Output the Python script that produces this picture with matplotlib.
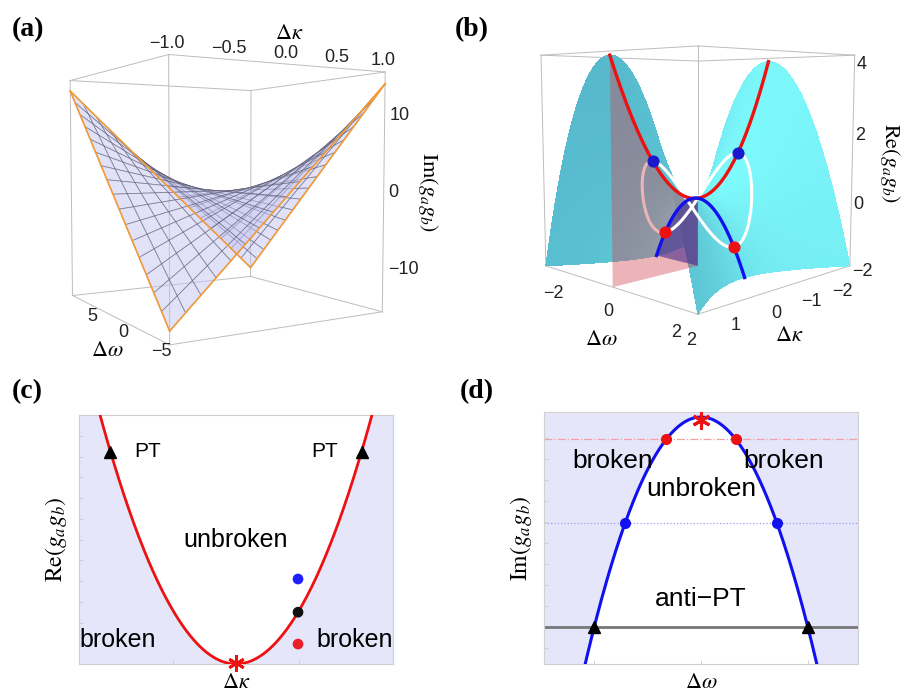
import numpy as np
import matplotlib
matplotlib.use('Agg')
import matplotlib.pyplot as plt
from mpl_toolkits.mplot3d.art3d import Poly3DCollection
from mpl_toolkits.mplot3d import proj3d

# ---------------- data ----------------
# panel (a): Im(g_a g_b) = A_COEF * dkappa * domega
A_KAPPA_LIM = [-1.0, 1.0]
A_OMEGA_LIM = [-7.0, 7.0]
A_Z_LIM = [-15.5, 15.5]
A_COEF = -2.0
A_KAPPA_TICKS = [-1.0, -0.5, 0.0, 0.5, 1.0]
A_KAPPA_LABELS = ['−1.0', '−0.5', '0.0', '0.5', '1.0']
A_OMEGA_TICKS = [5, 0, -5]
A_OMEGA_LABELS = ['5', '0', '−5']
A_Z_TICKS = [10, 0, -10]
A_Z_LABELS = ['10', '0', '−10']

# panel (b): Re(g_a g_b) = dkappa^2 - domega^2, clipped at z = -2
B_KAPPA_LIM = [-2.0, 2.0]
B_OMEGA_LIM = [-2.45, 2.45]
B_Z_LIM = [-2.0, 4.1]
B_LOOP_R = 1.1
B_KAPPA_TICKS = [2, 1, 0, -1, -2]
B_KAPPA_LABELS = ['2', '1', '0', '−1', '−2']
B_OMEGA_TICKS = [-2, 0, 2]
B_OMEGA_LABELS = ['−2', '0', '2']
B_Z_TICKS = [4, 2, 0, -2]
B_Z_LABELS = ['4', '2', '0', '−2']

# panel (c): Re(g_a g_b) = dkappa^2
C_XLIM = [-1.0, 1.0]
C_YLIM = [0.0, 0.75]
C_PT_X = [-0.80, 0.80]
C_DOT_X = [0.395, 0.395, 0.395]
C_DOT_Y = [0.256, 0.156, 0.060]
C_DOT_COLORS = ['#1f1fff', '#111111', '#e8202a']

# panel (d): Im(g_a g_b) = 1 - domega^2
D_XLIM = [-1.47, 1.47]
D_YLIM = [-0.176, 1.024]
D_LINE_Y = [0.895, 0.495, 0.0]   # red dash-dot, blue dotted, gray solid

LAVENDER = '#e6e6fa'
W_PX, H_PX = 907, 699

plt.rcParams['font.family'] = ['Liberation Sans', 'DejaVu Sans']
plt.rcParams['mathtext.fontset'] = 'stix'

fig = plt.figure(figsize=(9.07, 6.99), dpi=100)

labels3d = []   # (axes, x, y, z, text, dx_px, dy_px, kwargs)


def label3d(ax, x, y, z, s, dx=0, dy=0, **kw):
    labels3d.append((ax, x, y, z, s, dx, dy, kw))


def box_edges(ax, xl, yl, zl, color='#bdbdbd', lw=0.7):
    for y in yl:
        for z in zl:
            ax.plot(xl, [y, y], [z, z], color=color, lw=lw, zorder=0)
    for x in xl:
        for z in zl:
            ax.plot([x, x], yl, [z, z], color=color, lw=lw, zorder=0)
    for x in xl:
        for y in yl:
            ax.plot([x, x], [y, y], zl, color=color, lw=lw, zorder=0)


def setup3d(ax, xl, yl, zl):
    ax.set_xlim(xl)
    ax.set_ylim(yl)
    ax.set_zlim(zl)
    ax.set_axis_off()
    ax.patch.set_alpha(0)


tick_kw = dict(fontsize=13, color='#222222', ha='center', va='center')
left_kw = dict(fontsize=13, color='#222222', ha='left', va='center')

# ---------------- panel (a) ----------------
axa = fig.add_axes([-0.014, 0.46, 0.50, 0.52], projection='3d', computed_zorder=False)
axa.set_proj_type('persp', focal_length=0.36)
axa.view_init(elev=3, azim=-121)
axa.set_box_aspect((1, 1, 1), zoom=1.05)
setup3d(axa, A_KAPPA_LIM, A_OMEGA_LIM, A_Z_LIM)
box_edges(axa, A_KAPPA_LIM, A_OMEGA_LIM, A_Z_LIM)

ka = np.linspace(A_KAPPA_LIM[0], A_KAPPA_LIM[1], 17)
wa = np.linspace(A_OMEGA_LIM[0], A_OMEGA_LIM[1], 17)
KA, WA = np.meshgrid(ka, wa)
ZA = A_COEF * KA * WA
axa.plot_surface(KA, WA, ZA, color='#c4c6f3', alpha=0.5, edgecolor=(0.3, 0.3, 0.38, 0.5),
                 linewidth=0.55, rstride=1, cstride=1, shade=False, zorder=2)
for k0 in A_KAPPA_LIM:
    axa.plot([k0] * len(wa), wa, A_COEF * k0 * wa, color='#f29a38', lw=1.2, zorder=3)
for w0 in A_OMEGA_LIM:
    axa.plot(ka, [w0] * len(ka), A_COEF * ka * w0, color='#f29a38', lw=1.2, zorder=3)

for t, s in zip(A_KAPPA_TICKS, A_KAPPA_LABELS):
    label3d(axa, t, A_OMEGA_LIM[0], A_Z_LIM[1], s, dx=-2, dy=11, **tick_kw)
label3d(axa, 0.0, A_OMEGA_LIM[0], A_Z_LIM[1], r'$\Delta\kappa$', dx=2, dy=31,
        fontsize=16, ha='center', va='center')
for t, s in zip(A_Z_TICKS, A_Z_LABELS):
    label3d(axa, A_KAPPA_LIM[1], A_OMEGA_LIM[0], t, s, dx=5, dy=0, **left_kw)
label3d(axa, A_KAPPA_LIM[1], A_OMEGA_LIM[0], 0, r'$\mathrm{Im}(g_a g_b)$', dx=44, dy=1,
        fontsize=16, rotation=270, ha='center', va='center')
for t, s in zip(A_OMEGA_TICKS, A_OMEGA_LABELS):
    label3d(axa, A_KAPPA_LIM[0], t, A_Z_LIM[0], s, dx=9, dy=-16, **tick_kw)
label3d(axa, A_KAPPA_LIM[0], 2.0, A_Z_LIM[0], r'$\Delta\omega$', dx=6, dy=-41,
        fontsize=16, ha='center', va='center')

# ---------------- panel (b) ----------------
axb = fig.add_axes([0.514, 0.501, 0.50, 0.52], projection='3d', computed_zorder=False)
axb.set_proj_type('persp', focal_length=0.36)
axb.view_init(elev=6, azim=45)
axb.set_box_aspect((1, 1, 0.97), zoom=1.0)
setup3d(axb, B_KAPPA_LIM, B_OMEGA_LIM, B_Z_LIM)
box_edges(axb, B_KAPPA_LIM, B_OMEGA_LIM, B_Z_LIM)

kb = np.linspace(B_KAPPA_LIM[0], B_KAPPA_LIM[1], 81)
sb = np.linspace(-1, 1, 81)
KB, SB = np.meshgrid(kb, sb)
WB = SB * np.sqrt(KB ** 2 - B_Z_LIM[0])
ZB = KB ** 2 - WB ** 2
# simple directional lighting on the surface normals
nx, ny, nz = -2 * KB, 2 * WB, np.ones_like(KB)
nn = np.sqrt(nx ** 2 + ny ** 2 + nz ** 2)
light = np.array([0.8, 0.15, 0.55])
light = light / np.linalg.norm(light)
tt = 0.5 + 0.5 * (nx * light[0] + ny * light[1] + nz * light[2]) / nn
dark = np.array([78, 172, 194]) / 255.0
bright = np.array([125, 250, 252]) / 255.0
fc = dark[None, None, :] + tt[..., None] * (bright - dark)[None, None, :]
fc = np.concatenate([fc, np.ones(KB.shape + (1,))], axis=-1)
axb.plot_surface(KB, WB, ZB, facecolors=fc, linewidth=0, antialiased=False,
                 shade=False, rstride=1, cstride=1, zorder=1)

# loop
t = np.linspace(0, 2 * np.pi, 300)
lk = B_LOOP_R * np.cos(t)
lw_ = B_LOOP_R * np.sin(t)
lz = lk ** 2 - lw_ ** 2
back = (lk > 0) & (lw_ < 0)
axb.plot(np.where(back, lk, np.nan), np.where(back, lw_, np.nan), np.where(back, lz, np.nan),
         color='white', lw=2.2, zorder=2)

# red plane (domega = 0, dkappa in [0, 2]) and blue plane (dkappa = 0, domega in [-sqrt2, 0])
kp = np.linspace(B_KAPPA_LIM[1], 0, 40)
red_verts = [(0, 0, B_Z_LIM[0]), (B_KAPPA_LIM[1], 0, B_Z_LIM[0])] + \
            [(k, 0, k ** 2) for k in kp] + [(0, 0, B_Z_LIM[0])]
axb.add_collection3d(Poly3DCollection([red_verts], facecolor=(0.82, 0.26, 0.31, 0.4),
                                      edgecolor='none', zorder=3))
w0 = -np.sqrt(-B_Z_LIM[0])
wp = np.linspace(w0, 0, 40)
blue_verts = [(0, w, -w ** 2) for w in wp] + [(0, 0, B_Z_LIM[0])]
axb.add_collection3d(Poly3DCollection([blue_verts], facecolor=(0.22, 0.12, 0.55, 0.55),
                                      edgecolor='none', zorder=3))

axb.plot(np.where(~back, lk, np.nan), np.where(~back, lw_, np.nan), np.where(~back, lz, np.nan),
         color='white', lw=2.2, zorder=4)
kr = np.linspace(B_KAPPA_LIM[0], B_KAPPA_LIM[1], 200)
axb.plot(kr, np.zeros_like(kr), kr ** 2, color='#ee1111', lw=2.4, zorder=5)
wr = np.linspace(-np.sqrt(-B_Z_LIM[0]), np.sqrt(-B_Z_LIM[0]), 200)
axb.plot(np.zeros_like(wr), wr, -wr ** 2, color='#1111ee', lw=2.4, zorder=5)
axb.scatter([B_LOOP_R, -B_LOOP_R], [0, 0], [B_LOOP_R ** 2] * 2, s=60, color='#1a1acc',
            depthshade=False, zorder=6)
axb.scatter([0, 0], [B_LOOP_R, -B_LOOP_R], [-B_LOOP_R ** 2] * 2, s=60, color='#ee1111',
            depthshade=False, zorder=6)

for t_, s in zip(B_Z_TICKS, B_Z_LABELS):
    label3d(axb, B_KAPPA_LIM[0], B_OMEGA_LIM[1], t_, s, dx=2, dy=-6, **left_kw)
label3d(axb, B_KAPPA_LIM[0], B_OMEGA_LIM[1], 1.0, r'$\mathrm{Re}(g_a g_b)$', dx=38, dy=1,
        fontsize=16, rotation=270, ha='center', va='center')
for t_, s in zip(B_KAPPA_TICKS, B_KAPPA_LABELS):
    label3d(axb, t_, B_OMEGA_LIM[1], B_Z_LIM[0], s, dx=-7, dy=-26, **tick_kw)
label3d(axb, 0.0, B_OMEGA_LIM[1], B_Z_LIM[0], r'$\Delta\kappa$', dx=6, dy=-48,
        fontsize=16, ha='center', va='center')
for t_, s in zip(B_OMEGA_TICKS, B_OMEGA_LABELS):
    label3d(axb, B_KAPPA_LIM[1], t_, B_Z_LIM[0], s, dx=-4, dy=-24, **tick_kw)
label3d(axb, B_KAPPA_LIM[1], 0.0, B_Z_LIM[0], r'$\Delta\omega$', dx=-11, dy=-52,
        fontsize=16, ha='center', va='center')

# ---------------- panel (c) ----------------
axc = fig.add_axes([79 / W_PX, 35 / H_PX, 314 / W_PX, 249 / H_PX])
xc = np.linspace(C_XLIM[0], C_XLIM[1], 500)
yc = xc ** 2
axc.set_facecolor(LAVENDER)
axc.fill_between(xc, yc, C_YLIM[1] + 1, color='white', lw=0, zorder=1)
axc.plot(xc, yc, color='#ee1111', lw=2.0, zorder=3, clip_on=True)
axc.plot(C_PT_X, [x ** 2 for x in C_PT_X], marker='^', ls='none', color='black', ms=9, zorder=4)
axc.scatter(C_DOT_X, C_DOT_Y, s=45, c=C_DOT_COLORS, zorder=5)
axc.plot([0], [0.004], marker=(6, 2, 0), ms=12, mew=2, color='#ee1111', ls='none', zorder=6, clip_on=False)
axc.text(-0.65, 0.64, 'PT', fontsize=15, ha='left', va='center', zorder=7)
axc.text(0.65, 0.64, 'PT', fontsize=15, ha='right', va='center', zorder=7)
axc.text(0.0, 0.372, 'unbroken', fontsize=18, ha='center', va='center', zorder=7)
axc.text(C_XLIM[0], 0.072, 'broken', fontsize=18, ha='left', va='center', zorder=7)
axc.text(C_XLIM[1], 0.072, 'broken', fontsize=18, ha='right', va='center', zorder=7)
axc.set_xlim(C_XLIM)
axc.set_ylim(C_YLIM)
axc.set_ylabel(r'$\mathrm{Re}(g_a g_b)$', fontsize=17, labelpad=7)
axc.set_xlabel(r'$\Delta\kappa$', fontsize=16, labelpad=6)

# ---------------- panel (d) ----------------
axd = fig.add_axes([544 / W_PX, 35 / H_PX, 314 / W_PX, 252 / H_PX])
xd = np.linspace(D_XLIM[0], D_XLIM[1], 500)
yd = 1 - xd ** 2
axd.set_facecolor(LAVENDER)
axd.fill_between(xd, D_YLIM[0] - 1, yd, color='white', lw=0, zorder=1)
axd.axhline(D_LINE_Y[0], color='#f4a0a6', lw=0.9, ls='-.', zorder=2)
axd.axhline(D_LINE_Y[1], color='#9a9af5', lw=0.9, ls=':', zorder=2)
axd.axhline(D_LINE_Y[2], color='#777777', lw=2.0, zorder=2)
axd.plot(xd, yd, color='#1111ee', lw=2.2, zorder=3)
xr = np.sqrt(1 - D_LINE_Y[0])
xb = np.sqrt(1 - D_LINE_Y[1])
xg = np.sqrt(1 - D_LINE_Y[2])
axd.plot([-xr, xr], [D_LINE_Y[0]] * 2, 'o', color='#ee1111', ms=7, zorder=4)
axd.plot([-xb, xb], [D_LINE_Y[1]] * 2, 'o', color='#1111ee', ms=7, zorder=4)
axd.plot([-xg, xg], [D_LINE_Y[2]] * 2, '^', color='black', ms=9, zorder=4)
axd.plot([0], [0.985], marker=(6, 2, 0), ms=13, mew=2.2, color='#ee1111', ls='none', zorder=6)
axd.text(-0.45, 0.79, 'broken', fontsize=19, ha='right', va='center', zorder=7)
axd.text(0.40, 0.79, 'broken', fontsize=19, ha='left', va='center', zorder=7)
axd.text(0.0, 0.655, 'unbroken', fontsize=19, ha='center', va='center', zorder=7)
axd.text(0.0, 0.135, 'anti−PT', fontsize=19, ha='center', va='center', zorder=7)
axd.set_xlim(D_XLIM)
axd.set_ylim(D_YLIM)
axd.set_ylabel(r'$\mathrm{Im}(g_a g_b)$', fontsize=17, labelpad=7)
axd.set_xlabel(r'$\Delta\omega$', fontsize=16, labelpad=6)

for ax in (axc, axd):
    for sp in ax.spines.values():
        sp.set_color('#d0d0d0')
        sp.set_linewidth(0.8)
    ax.tick_params(colors='#cccccc', length=3, width=0.6, labelleft=False, labelbottom=False,
                   direction='in')

axc.set_xticks([-0.4, 0.0, 0.4])
axc.set_yticks(np.arange(0.0, 0.75, 0.0625))
axd.set_xticks([-1.0, 0.0, 1.0])
axd.set_yticks(np.arange(-0.1, 1.0, 0.1))

lab_kw = dict(fontsize=20, fontweight='bold', family='Liberation Serif', va='center', ha='left')
fig.text(12 / W_PX, 1 - 30 / H_PX, '(a)', **lab_kw)
fig.text(455 / W_PX, 1 - 30 / H_PX, '(b)', **lab_kw)
fig.text(12 / W_PX, 1 - 392 / H_PX, '(c)', **lab_kw)
fig.text(460 / W_PX, 1 - 392 / H_PX, '(d)', **lab_kw)

# place 3D axis labels as 2D figure texts at the projected positions
fig.canvas.draw()
for ax, x, y, z, s, dx, dy, kw in labels3d:
    X, Y, _ = proj3d.proj_transform(x, y, z, ax.M)
    px, py = ax.transData.transform((X, Y))
    fig.text((px + dx) / W_PX, (py + dy) / H_PX, s, **kw)

fig.savefig('out.png', dpi=100)
